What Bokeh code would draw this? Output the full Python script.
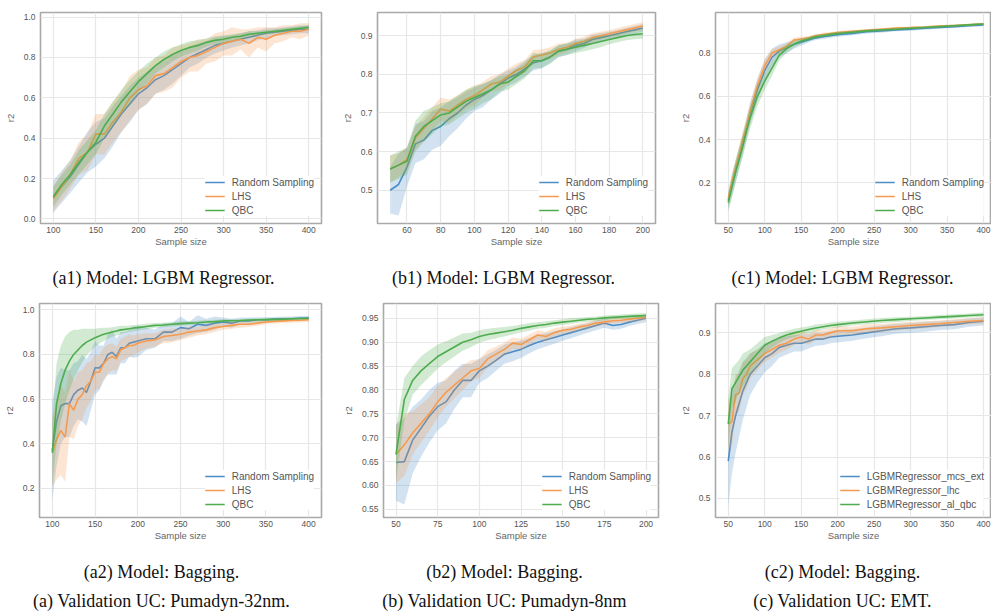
from bokeh.plotting import figure
from bokeh.layouts import column, row
from bokeh.models import Range1d, FixedTicker, Label
from bokeh.embed import file_html
from bokeh.resources import INLINE

# ---------------- data ----------------
LABELS_STD = ["Random Sampling", "LHS", "QBC"]
LABELS_EMT = ["LGBMRegressor_mcs_ext", "LGBMRegressor_lhc", "LGBMRegressor_al_qbc"]

# (a1) Pumadyn-32nm, LGBM
A1_X = [100, 110, 120, 130, 140, 150, 160, 170, 180, 190, 200, 210, 220, 230, 240, 250,
        260, 270, 280, 290, 300, 310, 320, 330, 340, 350, 360, 370, 380, 390, 400]
A1_RS = [0.11, 0.16, 0.21, 0.27, 0.33, 0.37, 0.40, 0.46, 0.52, 0.57, 0.62, 0.65, 0.69, 0.71, 0.74, 0.77,
         0.80, 0.82, 0.84, 0.86, 0.87, 0.88, 0.89, 0.90, 0.91, 0.92, 0.925, 0.93, 0.935, 0.94, 0.94]
A1_RS_SD = [0.08, 0.08, 0.08, 0.09, 0.10, 0.11, 0.10, 0.10, 0.09, 0.09, 0.08, 0.08, 0.07, 0.07, 0.07, 0.06,
            0.05, 0.05, 0.04, 0.04, 0.035, 0.03, 0.03, 0.03, 0.025, 0.025, 0.02, 0.02, 0.02, 0.02, 0.02]
A1_LHS = [0.10, 0.16, 0.22, 0.30, 0.33, 0.42, 0.42, 0.48, 0.53, 0.60, 0.64, 0.66, 0.71, 0.72, 0.75, 0.78,
          0.80, 0.81, 0.83, 0.85, 0.87, 0.88, 0.89, 0.87, 0.90, 0.89, 0.91, 0.92, 0.93, 0.93, 0.94]
A1_LHS_SD = [0.06, 0.07, 0.07, 0.08, 0.09, 0.10, 0.10, 0.10, 0.10, 0.11, 0.10, 0.09, 0.09, 0.09, 0.10, 0.08,
             0.07, 0.08, 0.06, 0.07, 0.06, 0.07, 0.05, 0.07, 0.05, 0.06, 0.04, 0.04, 0.03, 0.04, 0.03]
A1_QBC = [0.11, 0.17, 0.22, 0.28, 0.33, 0.38, 0.46, 0.52, 0.58, 0.63, 0.68, 0.72, 0.76, 0.79, 0.815, 0.835,
          0.85, 0.86, 0.875, 0.885, 0.89, 0.90, 0.905, 0.915, 0.92, 0.925, 0.93, 0.935, 0.94, 0.945, 0.95]
A1_QBC_SD = [0.05, 0.05, 0.05, 0.06, 0.06, 0.06, 0.06, 0.06, 0.06, 0.06, 0.05, 0.05, 0.04, 0.04, 0.035, 0.03,
             0.03, 0.025, 0.02, 0.02, 0.02, 0.015, 0.015, 0.015, 0.01, 0.01, 0.01, 0.01, 0.01, 0.01, 0.01]

# (b1) Pumadyn-8nm, LGBM
B_X = [50, 55, 60, 65, 70, 75, 80, 85, 90, 95, 100, 105, 110, 115, 120, 125,
       130, 135, 140, 145, 150, 155, 160, 165, 170, 175, 180, 185, 190, 195, 200]
B1_RS = [0.50, 0.515, 0.56, 0.62, 0.63, 0.655, 0.665, 0.685, 0.70, 0.72, 0.735, 0.745, 0.76, 0.775, 0.79, 0.80,
         0.815, 0.83, 0.835, 0.845, 0.86, 0.865, 0.875, 0.88, 0.89, 0.895, 0.90, 0.905, 0.91, 0.915, 0.92]
B1_RS_SD = [0.06, 0.08, 0.05, 0.05, 0.05, 0.05, 0.05, 0.045, 0.04, 0.035, 0.03, 0.03, 0.025, 0.025, 0.02, 0.02,
            0.02, 0.02, 0.02, 0.015, 0.015, 0.015, 0.015, 0.012, 0.012, 0.012, 0.01, 0.01, 0.01, 0.01, 0.01]
B1_LHS = [0.555, 0.565, 0.58, 0.635, 0.66, 0.685, 0.71, 0.705, 0.72, 0.735, 0.745, 0.76, 0.775, 0.78, 0.795, 0.81,
          0.82, 0.845, 0.85, 0.855, 0.865, 0.87, 0.88, 0.885, 0.895, 0.90, 0.905, 0.91, 0.915, 0.92, 0.925]
B1_LHS_SD = [0.035, 0.03, 0.03, 0.03, 0.03, 0.03, 0.03, 0.03, 0.025, 0.025, 0.025, 0.02, 0.02, 0.02, 0.02, 0.018,
             0.018, 0.018, 0.015, 0.015, 0.015, 0.012, 0.012, 0.012, 0.012, 0.01, 0.01, 0.01, 0.01, 0.01, 0.01]
B1_QBC = [0.555, 0.565, 0.575, 0.64, 0.665, 0.68, 0.695, 0.70, 0.715, 0.73, 0.74, 0.75, 0.76, 0.775, 0.78, 0.795,
          0.81, 0.835, 0.835, 0.845, 0.86, 0.865, 0.87, 0.875, 0.88, 0.885, 0.89, 0.895, 0.90, 0.903, 0.905]
B1_QBC_SD = [0.035, 0.035, 0.035, 0.04, 0.04, 0.035, 0.03, 0.03, 0.03, 0.03, 0.03, 0.025, 0.025, 0.02, 0.02, 0.02,
             0.02, 0.02, 0.018, 0.018, 0.015, 0.015, 0.015, 0.015, 0.015, 0.015, 0.012, 0.012, 0.012, 0.012, 0.012]

# (c1) EMT, LGBM
C_X = [50, 55, 60, 65, 70, 75, 80, 90, 100, 110, 120, 130, 140, 150, 160, 170, 180, 190, 200,
       220, 240, 260, 280, 300, 320, 340, 360, 380, 400]
C1_RS = [0.12, 0.19, 0.25, 0.32, 0.38, 0.45, 0.52, 0.63, 0.72, 0.78, 0.81, 0.825, 0.84, 0.85, 0.86, 0.87,
         0.875, 0.88, 0.885, 0.89, 0.898, 0.902, 0.907, 0.91, 0.914, 0.918, 0.922, 0.926, 0.93]
C1_RS_SD = [0.04, 0.05, 0.05, 0.05, 0.05, 0.05, 0.05, 0.05, 0.05, 0.04, 0.03, 0.025, 0.02, 0.015, 0.012, 0.01,
            0.01, 0.01, 0.01, 0.008, 0.008, 0.008, 0.007, 0.007, 0.007, 0.006, 0.006, 0.006, 0.006]
C1_LHS = [0.13, 0.20, 0.27, 0.33, 0.40, 0.46, 0.53, 0.65, 0.74, 0.80, 0.815, 0.83, 0.86, 0.865, 0.87, 0.88,
          0.885, 0.89, 0.895, 0.90, 0.905, 0.91, 0.915, 0.917, 0.92, 0.924, 0.927, 0.93, 0.935]
C1_LHS_SD = [0.03, 0.04, 0.04, 0.04, 0.04, 0.04, 0.04, 0.035, 0.03, 0.02, 0.015, 0.015, 0.012, 0.01, 0.008, 0.008,
             0.008, 0.007, 0.007, 0.006, 0.006, 0.006, 0.005, 0.005, 0.005, 0.005, 0.005, 0.005, 0.005]
C1_QBC = [0.11, 0.18, 0.25, 0.31, 0.37, 0.44, 0.50, 0.60, 0.67, 0.73, 0.79, 0.82, 0.84, 0.855, 0.865, 0.875,
          0.88, 0.885, 0.89, 0.896, 0.902, 0.906, 0.91, 0.914, 0.918, 0.922, 0.926, 0.93, 0.934]
C1_QBC_SD = [0.04, 0.05, 0.05, 0.05, 0.05, 0.05, 0.05, 0.045, 0.04, 0.035, 0.025, 0.02, 0.015, 0.012, 0.01, 0.01,
             0.008, 0.008, 0.008, 0.007, 0.007, 0.006, 0.006, 0.006, 0.005, 0.005, 0.005, 0.005, 0.005]

# (a2) Pumadyn-32nm, Bagging
A2_X = [100, 105, 110, 115, 120, 125, 130, 135, 140, 145, 150, 155, 160, 165, 170, 175, 180, 185, 190, 195, 200,
        210, 220, 230, 240, 250, 260, 270, 280, 290, 300, 310, 320, 330, 340, 350, 360, 370, 380, 390, 400]
A2_RS = [0.37, 0.50, 0.57, 0.58, 0.58, 0.62, 0.64, 0.65, 0.63, 0.68, 0.74, 0.74, 0.76, 0.80, 0.81, 0.79, 0.83,
         0.83, 0.85, 0.855, 0.86,
         0.87, 0.87, 0.90, 0.90, 0.92, 0.915, 0.935, 0.93, 0.94, 0.945, 0.94, 0.95, 0.95, 0.955, 0.955, 0.958,
         0.96, 0.96, 0.962, 0.963]
A2_RS_SD = [0.22, 0.20, 0.17, 0.15, 0.15, 0.14, 0.13, 0.15, 0.15, 0.13, 0.12, 0.10, 0.08, 0.09, 0.10, 0.08, 0.07,
            0.07, 0.06, 0.07, 0.07,
            0.05, 0.04, 0.04, 0.04, 0.05, 0.03, 0.04, 0.03, 0.03, 0.02, 0.02, 0.015, 0.015, 0.012, 0.012, 0.01,
            0.01, 0.01, 0.01, 0.01]
A2_LHS = [0.36, 0.42, 0.46, 0.43, 0.58, 0.55, 0.60, 0.62, 0.66, 0.68, 0.72, 0.72, 0.76, 0.78, 0.79, 0.78, 0.82,
          0.83, 0.84, 0.84, 0.85,
          0.86, 0.865, 0.88, 0.885, 0.89, 0.90, 0.905, 0.91, 0.92, 0.925, 0.93, 0.935, 0.935, 0.94, 0.945, 0.948,
          0.95, 0.952, 0.953, 0.955]
A2_LHS_SD = [0.15, 0.18, 0.20, 0.20, 0.15, 0.13, 0.12, 0.11, 0.10, 0.09, 0.08, 0.075, 0.07, 0.065, 0.06, 0.055,
             0.05, 0.05, 0.05, 0.045, 0.04,
             0.035, 0.03, 0.03, 0.03, 0.025, 0.025, 0.02, 0.02, 0.02, 0.015, 0.015, 0.015, 0.012, 0.012, 0.01,
             0.01, 0.01, 0.01, 0.01, 0.01]
A2_QBC = [0.36, 0.58, 0.67, 0.73, 0.77, 0.80, 0.82, 0.84, 0.855, 0.865, 0.875, 0.883, 0.89, 0.895, 0.90, 0.905,
          0.91, 0.912, 0.915, 0.918, 0.92,
          0.925, 0.93, 0.932, 0.935, 0.938, 0.94, 0.942, 0.945, 0.947, 0.95, 0.951, 0.952, 0.954, 0.955, 0.956,
          0.957, 0.958, 0.96, 0.961, 0.962]
A2_QBC_SD = [0.15, 0.18, 0.17, 0.15, 0.13, 0.11, 0.09, 0.075, 0.06, 0.05, 0.04, 0.035, 0.03, 0.025, 0.022, 0.02,
             0.018, 0.016, 0.015, 0.014, 0.013,
             0.012, 0.011, 0.01, 0.01, 0.01, 0.009, 0.009, 0.008, 0.008, 0.008, 0.007, 0.007, 0.007, 0.006, 0.006,
             0.006, 0.006, 0.006, 0.006, 0.006]

# (b2) Pumadyn-8nm, Bagging
B2_RS = [0.648, 0.65, 0.695, 0.72, 0.745, 0.765, 0.775, 0.80, 0.82, 0.82, 0.84, 0.85, 0.862, 0.875, 0.88, 0.885,
         0.893, 0.90, 0.905, 0.91, 0.915, 0.92, 0.925, 0.93, 0.935, 0.94, 0.935, 0.937, 0.942, 0.946, 0.95]
B2_RS_SD = [0.08, 0.09, 0.07, 0.06, 0.055, 0.05, 0.045, 0.04, 0.035, 0.035, 0.025, 0.025, 0.022, 0.02, 0.02, 0.018,
            0.016, 0.015, 0.014, 0.013, 0.012, 0.012, 0.011, 0.01, 0.01, 0.01, 0.009, 0.009, 0.008, 0.008, 0.008]
B2_LHS = [0.665, 0.685, 0.71, 0.73, 0.75, 0.775, 0.795, 0.81, 0.825, 0.84, 0.845, 0.865, 0.875, 0.885, 0.898, 0.895,
          0.905, 0.915, 0.912, 0.92, 0.925, 0.927, 0.932, 0.935, 0.94, 0.942, 0.945, 0.946, 0.948, 0.95, 0.952]
B2_LHS_SD = [0.06, 0.065, 0.045, 0.04, 0.035, 0.033, 0.03, 0.028, 0.025, 0.022, 0.02, 0.018, 0.016, 0.014, 0.012, 0.012,
             0.011, 0.01, 0.01, 0.009, 0.008, 0.008, 0.007, 0.007, 0.007, 0.006, 0.006, 0.006, 0.006, 0.006, 0.006]
B2_QBC = [0.665, 0.78, 0.82, 0.84, 0.855, 0.87, 0.88, 0.89, 0.90, 0.905, 0.912, 0.916, 0.919, 0.922, 0.925, 0.929,
          0.932, 0.935, 0.937, 0.94, 0.942, 0.944, 0.946, 0.948, 0.949, 0.951, 0.952, 0.953, 0.954, 0.955, 0.956]
B2_QBC_SD = [0.055, 0.045, 0.03, 0.03, 0.028, 0.025, 0.022, 0.02, 0.018, 0.015, 0.013, 0.012, 0.011, 0.01, 0.009, 0.008,
             0.008, 0.007, 0.007, 0.006, 0.006, 0.006, 0.005, 0.005, 0.005, 0.005, 0.005, 0.005, 0.005, 0.005, 0.005]

# (c2) EMT, Bagging
C2_MCS = [0.59, 0.66, 0.70, 0.73, 0.76, 0.78, 0.80, 0.82, 0.84, 0.85, 0.865, 0.87, 0.875, 0.875, 0.88, 0.885,
          0.885, 0.89, 0.892, 0.895, 0.90, 0.905, 0.91, 0.912, 0.915, 0.918, 0.92, 0.925, 0.928]
C2_MCS_SD = [0.11, 0.10, 0.09, 0.08, 0.07, 0.06, 0.05, 0.04, 0.035, 0.03, 0.025, 0.022, 0.02, 0.02, 0.018, 0.016,
             0.015, 0.015, 0.015, 0.014, 0.013, 0.013, 0.012, 0.012, 0.012, 0.011, 0.011, 0.01, 0.01]
C2_LHC = [0.68, 0.685, 0.75, 0.755, 0.79, 0.80, 0.82, 0.835, 0.85, 0.86, 0.87, 0.875, 0.885, 0.89, 0.885, 0.895,
          0.895, 0.90, 0.905, 0.905, 0.91, 0.912, 0.915, 0.918, 0.92, 0.922, 0.925, 0.928, 0.93]
C2_LHC_SD = [0.06, 0.06, 0.05, 0.045, 0.04, 0.035, 0.03, 0.025, 0.02, 0.02, 0.018, 0.016, 0.015, 0.014, 0.013, 0.012,
             0.012, 0.011, 0.011, 0.01, 0.01, 0.01, 0.009, 0.009, 0.009, 0.008, 0.008, 0.008, 0.008]
C2_QBC = [0.68, 0.765, 0.78, 0.795, 0.81, 0.82, 0.83, 0.85, 0.87, 0.88, 0.888, 0.895, 0.90, 0.904, 0.908, 0.912,
          0.915, 0.918, 0.92, 0.924, 0.927, 0.93, 0.932, 0.934, 0.936, 0.938, 0.94, 0.942, 0.944]
C2_QBC_SD = [0.06, 0.05, 0.045, 0.04, 0.04, 0.035, 0.03, 0.025, 0.02, 0.015, 0.012, 0.01, 0.01, 0.009, 0.008, 0.008,
             0.007, 0.007, 0.007, 0.006, 0.006, 0.006, 0.006, 0.005, 0.005, 0.005, 0.005, 0.005, 0.005]

# ticks
XT_A = [100, 150, 200, 250, 300, 350, 400]
XL_A = ["100", "150", "200", "250", "300", "350", "400"]
XT_B1 = [60, 80, 100, 120, 140, 160, 180, 200]
XL_B1 = ["60", "80", "100", "120", "140", "160", "180", "200"]
XT_B2 = [50, 75, 100, 125, 150, 175, 200]
XL_B2 = ["50", "75", "100", "125", "150", "175", "200"]
XT_C = [50, 100, 150, 200, 250, 300, 350, 400]
XL_C = ["50", "100", "150", "200", "250", "300", "350", "400"]
YT_A1 = [0.0, 0.2, 0.4, 0.6, 0.8, 1.0]
YL_A1 = ["0.0", "0.2", "0.4", "0.6", "0.8", "1.0"]
YT_B1 = [0.5, 0.6, 0.7, 0.8, 0.9]
YL_B1 = ["0.5", "0.6", "0.7", "0.8", "0.9"]
YT_C1 = [0.2, 0.4, 0.6, 0.8]
YL_C1 = ["0.2", "0.4", "0.6", "0.8"]
YT_A2 = [0.2, 0.4, 0.6, 0.8, 1.0]
YL_A2 = ["0.2", "0.4", "0.6", "0.8", "1.0"]
YT_B2 = [0.55, 0.60, 0.65, 0.70, 0.75, 0.80, 0.85, 0.90, 0.95]
YL_B2 = ["0.55", "0.60", "0.65", "0.70", "0.75", "0.80", "0.85", "0.90", "0.95"]
YT_C2 = [0.5, 0.6, 0.7, 0.8, 0.9]
YL_C2 = ["0.5", "0.6", "0.7", "0.8", "0.9"]

CAP_ROW1 = ["(a1) Model: LGBM Regressor.", "(b1) Model: LGBM Regressor.", "(c1) Model: LGBM Regressor."]
CAP_ROW2 = ["(a2) Model: Bagging.", "(b2) Model: Bagging.", "(c2) Model: Bagging."]
CAP_ROW3 = ["(a) Validation UC: Pumadyn-32nm.", "(b) Validation UC: Pumadyn-8nm", "(c) Validation UC: EMT."]

# ---------------- style ----------------
COLORS = ["#4a8dc8", "#f59b4f", "#4dac4d"]
SANS = "Liberation Sans"
SERIF = "Liberation Serif"


def panel(x, series, labels, xr, yr, xt, xl, yt, yl, w, h, L, R, T, B):
    p = figure(width=w, height=h, x_range=Range1d(*xr), y_range=Range1d(*yr),
               output_backend="svg", toolbar_location=None,
               min_border_left=L, min_border_right=R, min_border_top=T, min_border_bottom=B)
    p.background_fill_color = "white"
    p.border_fill_color = "white"
    p.outline_line_color = "#a9a9a9"
    p.outline_line_width = 1.6
    p.grid.grid_line_color = "#e7e7e7"
    p.grid.grid_line_width = 1.2
    p.xaxis.ticker = FixedTicker(ticks=xt)
    p.xaxis.major_label_overrides = dict(zip(xt, xl))
    p.yaxis.ticker = FixedTicker(ticks=yt)
    p.yaxis.major_label_overrides = dict(zip(yt, yl))
    p.xaxis.axis_label = "Sample size"
    p.yaxis.axis_label = "r2"
    for ax in (p.xaxis[0], p.yaxis[0]):
        ax.axis_line_color = None
        ax.major_tick_line_color = None
        ax.minor_tick_line_color = None
        ax.major_tick_out = 0
        ax.major_tick_in = 0
        ax.minor_tick_out = 0
        ax.major_label_text_font = SANS
        ax.major_label_text_font_size = "8.5px"
        ax.major_label_text_color = "#555555"
        ax.axis_label_text_font = SANS
        ax.axis_label_text_font_size = "9.5px"
        ax.axis_label_text_font_style = "normal"
        ax.axis_label_text_color = "#666666"
    p.xaxis.major_label_standoff = 3
    p.xaxis.axis_label_standoff = 0
    p.yaxis.major_label_standoff = 5
    p.yaxis.axis_label_standoff = 5

    for (mean, sd), col, lab in zip(series, COLORS, labels):
        lo = [m - s for m, s in zip(mean, sd)]
        hi = [m + s for m, s in zip(mean, sd)]
        p.varea(x=x, y1=lo, y2=hi, fill_color=col, fill_alpha=0.25)
        p.line(x, mean, line_color=col, line_width=1.6, legend_label=lab)

    lg = p.legend[0]
    lg.location = "bottom_right"
    lg.background_fill_color = "white"
    lg.background_fill_alpha = 1.0
    lg.border_line_color = None
    lg.label_text_font = SANS
    lg.label_text_font_size = "10px"
    lg.label_text_color = "#555555"
    lg.glyph_width = 20
    lg.glyph_height = 12
    lg.label_height = 12
    lg.label_standoff = 7
    lg.spacing = 2
    lg.padding = 3
    lg.margin = 7
    return p


def caption(w, h, items):
    p = figure(width=w, height=h, x_range=Range1d(0, w), y_range=Range1d(0, h),
               output_backend="svg", toolbar_location=None, min_border=0,
               x_axis_type=None, y_axis_type=None)
    p.outline_line_color = None
    p.background_fill_color = "white"
    p.border_fill_color = "white"
    for text, cx, cy in items:
        p.add_layout(Label(x=cx, y=cy, text=text, text_align="center", text_baseline="middle",
                           text_font=SERIF, text_font_size="18px", text_color="#111111"))
    return p


a1 = panel(A1_X, [(A1_RS, A1_RS_SD), (A1_LHS, A1_LHS_SD), (A1_QBC, A1_QBC_SD)], LABELS_STD,
           (85, 415), (-0.023, 1.023), XT_A, XL_A, YT_A1, YL_A1, 330, 260, 40, 9, 12, 37)
b1 = panel(B_X, [(B1_RS, B1_RS_SD), (B1_LHS, B1_LHS_SD), (B1_QBC, B1_QBC_SD)], LABELS_STD,
           (42.5, 207.5), (0.414, 0.96), XT_B1, XL_B1, YT_B1, YL_B1, 330, 260, 47, 5, 12, 37)
c1 = panel(C_X, [(C1_RS, C1_RS_SD), (C1_LHS, C1_LHS_SD), (C1_QBC, C1_QBC_SD)], LABELS_STD,
           (32.5, 411), (0.013, 0.987), XT_C, XL_C, YT_C1, YL_C1, 331, 260, 55, 0, 12, 37)
a2 = panel(A2_X, [(A2_RS, A2_RS_SD), (A2_LHS, A2_LHS_SD), (A2_QBC, A2_QBC_SD)], LABELS_STD,
           (85, 415), (0.07, 1.028), XT_A, XL_A, YT_A2, YL_A2, 330, 260, 39, 9, 13, 33)
b2 = panel(B_X, [(B2_RS, B2_RS_SD), (B2_LHS, B2_LHS_SD), (B2_QBC, B2_QBC_SD)], LABELS_STD,
           (42.5, 207.5), (0.533, 0.981), XT_B2, XL_B2, YT_B2, YL_B2, 330, 260, 53, 2, 13, 33)
c2 = panel(C_X, [(C2_MCS, C2_MCS_SD), (C2_LHC, C2_LHC_SD), (C2_QBC, C2_QBC_SD)], LABELS_EMT,
           (32.5, 411), (0.454, 0.971), XT_C, XL_C, YT_C2, YL_C2, 331, 260, 55, 0, 13, 33)

cap1 = row(caption(330, 30, [(CAP_ROW1[0], 163, 12.5)]),
           caption(330, 30, [(CAP_ROW1[1], 173, 12.5)]),
           caption(331, 30, [(CAP_ROW1[2], 182, 12.5)]), spacing=0)
cap2 = row(caption(330, 65, [(CAP_ROW2[0], 161, 44), (CAP_ROW3[0], 161, 15)]),
           caption(330, 65, [(CAP_ROW2[1], 174, 44), (CAP_ROW3[1], 174, 15)]),
           caption(331, 65, [(CAP_ROW2[2], 182, 44), (CAP_ROW3[2], 182, 15)]), spacing=0)

layout = column(row(a1, b1, c1, spacing=0), cap1, row(a2, b2, c2, spacing=0), cap2, spacing=0)
open("out.html", "w").write(file_html(layout, INLINE))
